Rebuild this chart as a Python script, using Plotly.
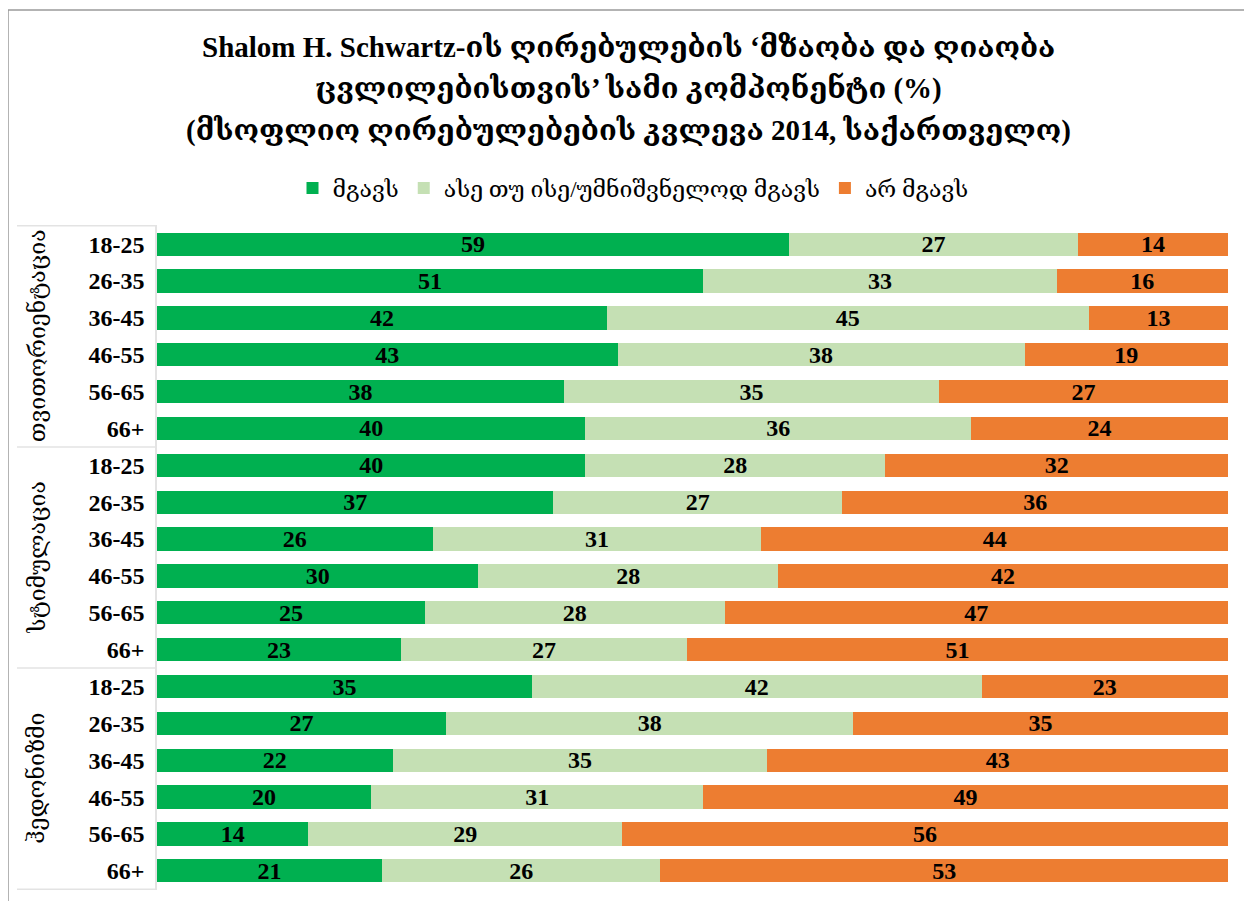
import plotly.graph_objects as go

groups = ["თვითორიენტაცია", "სტიმულაცია", "ჰედონიზმი"]
ages = ["18-25", "26-35", "36-45", "46-55", "56-65", "66+"]
series_names = ["მგავს", "ასე თუ ისე/უმნიშვნელოდ მგავს", "არ მგავს"]

similar = [59, 51, 42, 43, 38, 40,
           40, 37, 26, 30, 25, 23,
           35, 27, 22, 20, 14, 21]
somewhat = [27, 33, 45, 38, 35, 36,
            28, 27, 31, 28, 28, 27,
            42, 38, 35, 31, 29, 26]
not_similar = [14, 16, 13, 19, 27, 24,
               32, 36, 44, 42, 47, 51,
               23, 35, 43, 49, 56, 53]

title_lines = [
    "Shalom H. Schwartz-ის ღირებულების ‘მზაობა და ღიაობა",
    "ცვლილებისთვის’ სამი კომპონენტი (%)",
    "(მსოფლიო ღირებულებების კვლევა 2014, საქართველო)",
]

colors = ["#00B050", "#C5E0B4", "#ED7D31"]

ids = [f"{g}|{a}" for g in groups for a in ages]
tick_text = [a for g in groups for a in ages]

FONT = "Liberation Serif, DejaVu Serif, serif"

# page body has an 8px margin, so figure coords = reference coords - 8
W, H = 1244, 893
L, T, R, B = 149, 217, 24, 11
PW, PH = W - L - R, H - T - B


def px_x(x):
    return (x - 8 - L) / PW


def px_y(y):
    return 1 + (T - (y - 8)) / PH


fig = go.Figure()
for name, vals, col in zip(series_names, [similar, somewhat, not_similar], colors):
    fig.add_trace(go.Bar(
        y=ids, x=vals, name=name, orientation="h",
        marker=dict(color=col, line=dict(width=0)),
        text=[str(v) for v in vals], textposition="inside",
        insidetextanchor="middle", textangle=0, constraintext="none",
        textfont=dict(family=FONT, size=24, color="black", weight="bold"),
        hoverinfo="x+name",
    ))

shapes = []
for k in range(len(groups) + 1):
    yv = k * len(ages) - 0.5
    shapes.append(dict(type="line", xref="paper", yref="y",
                       x0=px_x(17), x1=px_x(155), y0=yv, y1=yv,
                       line=dict(color="#E3E3E3", width=1.5)))
shapes.append(dict(type="rect", xref="paper", yref="paper",
                   x0=px_x(8), x1=px_x(1248),
                   y0=px_y(920), y1=px_y(10),
                   line=dict(color="#9A9A9A", width=1.5), layer="below"))

annotations = []
for i, g in enumerate(groups):
    annotations.append(dict(
        text=g, xref="paper", yref="y", x=px_x(37),
        y=i * len(ages) + (len(ages) - 1) / 2, textangle=-90,
        showarrow=False, xanchor="center", yanchor="middle",
        font=dict(family=FONT, size=23, color="black")))

for line, yc in zip(title_lines, [47, 89, 131]):
    annotations.append(dict(
        text=f"<b>{line}</b>", xref="paper", yref="paper",
        x=px_x(628), y=px_y(yc), xanchor="center", yanchor="middle",
        showarrow=False, font=dict(family=FONT, size=29, color="black")))

fig.update_layout(
    width=W, height=H,
    barmode="stack", barnorm="percent", bargap=0.37,
    paper_bgcolor="white", plot_bgcolor="white",
    margin=dict(l=L, r=R, t=T, b=B, autoexpand=False),
    legend=dict(orientation="h", x=px_x(633), xanchor="center",
                y=px_y(188), yanchor="middle",
                font=dict(family=FONT, size=23, color="black"),
                traceorder="normal", itemwidth=30,
                bgcolor="rgba(0,0,0,0)"),
    xaxis=dict(range=[0, 100], visible=False, fixedrange=True),
    yaxis=dict(type="category", categoryorder="array", categoryarray=ids,
               tickvals=ids, ticktext=tick_text, autorange="reversed",
               showline=True, linecolor="#E3E3E3", linewidth=1.5,
               ticks="", ticklabelstandoff=6, showgrid=False,
               tickfont=dict(family=FONT, size=24, color="black", weight="bold")),
    shapes=shapes, annotations=annotations,
)

fig.write_html("out.html")
